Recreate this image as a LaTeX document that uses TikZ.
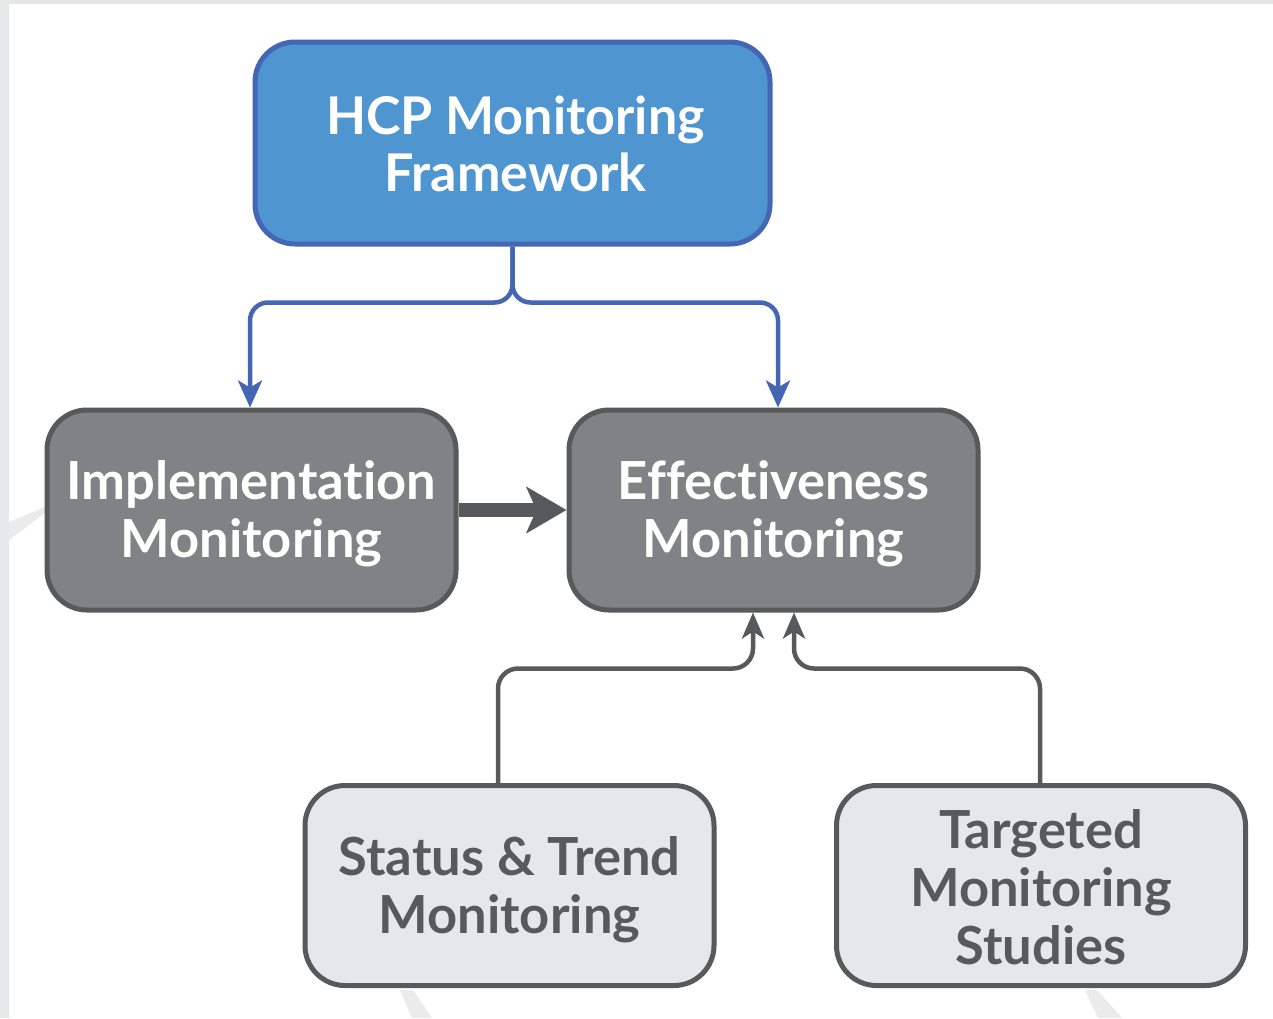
\documentclass[tikz,border=0pt]{standalone}
\usepackage{fontspec}
\setmainfont{Lato}[BoldFont={Lato Bold},Ligatures={NoCommon,NoRare,NoDiscretionary}]
\usetikzlibrary{arrows.meta,calc}
\definecolor{bgray}{HTML}{E6E7E9}
\definecolor{faint}{HTML}{EBEBEC}
\definecolor{bluefill}{HTML}{4F95D0}
\definecolor{blueline}{HTML}{4466B4}
\definecolor{darkfill}{HTML}{808285}
\definecolor{darkline}{HTML}{58595B}
\definecolor{lightfill}{HTML}{E6E7E8}
\tikzset{
  box/.style={rectangle, rounded corners=40pt, line width=5pt, minimum width=409pt, minimum height=200pt, inner sep=0pt},
  topbox/.style={box, fill=bluefill, draw=blueline, minimum width=515pt, minimum height=202pt},
  midbox/.style={box, fill=darkfill, draw=darkline},
  lowbox/.style={box, fill=lightfill, draw=darkline},
  txt/.style={align=center, inner sep=0pt, font=\bfseries\fontsize{52.5}{58}\selectfont},
  toptxt/.style={txt, text=white, font=\bfseries\fontsize{52}{57}\selectfont},
  midtxt/.style={txt, text=white},
  lowtxt/.style={txt, text=darkline},
  bluearrow/.style={draw=blueline, line width=4.5pt, rounded corners=18pt, -{Stealth[length=27pt,width=24pt,inset=7pt]}, blueline},
  grayarrow/.style={draw=darkline, line width=4.5pt, rounded corners=20pt, -{Stealth[length=26pt,width=22pt,inset=7pt]}, darkline},
  fatarrow/.style={draw=darkline, line width=14pt, -{Stealth[length=40pt,width=46pt,inset=10pt]}, darkline},
}
\begin{document}
\begin{tikzpicture}[x=1pt,y=-1pt]
\useasboundingbox (0,0) rectangle (1273,1018);
\fill[bgray] (0,0) rectangle (1273,1018);
\fill[white] (9,4) rectangle (1273,1018);
\fill[faint] (9,522) -- (45,507) -- (45,513) -- (9,540) -- cycle;
\fill[faint] (400,990) -- (413,990) -- (432,1018) -- (412,1018) -- cycle;
\fill[faint] (1085,990) -- (1097,990) -- (1122,1018) -- (1098,1018) -- cycle;

\node[topbox] (hcp) at (512.5,143) {};
\node[midbox] (impl) at (251.5,510) {};
\node[midbox] (eff) at (773.5,510) {};
\node[lowbox] (stat) at (509.5,885.5) {};
\node[lowbox] (targ) at (1041,885.5) {};

\node[toptxt] (hcpt) at ([xshift=3pt,yshift=-1pt]hcp.center) {HCP Monitoring\\Framework};
\node[midtxt] (implt) at ([yshift=-4pt]impl.center) {Implementation\\Monitoring};
\node[midtxt] (efft) at ([yshift=-4pt]eff.center) {Effectiveness\\Monitoring};
\node[lowtxt] (statt) at ([yshift=-4pt]stat.center) {Status \& Trend\\Monitoring};
\node[lowtxt] (targt) at ([yshift=-2pt]targ.center) {Targeted\\Monitoring\\Studies};

\draw[bluearrow] (hcp.south) -- ([yshift=-56pt]hcp.south) -| ([xshift=-1.5pt]impl.north);
\draw[bluearrow] (hcp.south) -- ([yshift=-56pt]hcp.south) -| ([xshift=4.5pt]eff.north);
\draw[fatarrow] (impl.east) -- (eff.west);
\draw[grayarrow] ([xshift=-11.5pt]stat.north) |- ([xshift=-20.5pt,yshift=-56pt]eff.south) -- ([xshift=-20.5pt]eff.south);
\draw[grayarrow] ([xshift=-1pt]targ.north) |- ([xshift=20.5pt,yshift=-56pt]eff.south) -- ([xshift=20.5pt]eff.south);
\end{tikzpicture}
\end{document}
